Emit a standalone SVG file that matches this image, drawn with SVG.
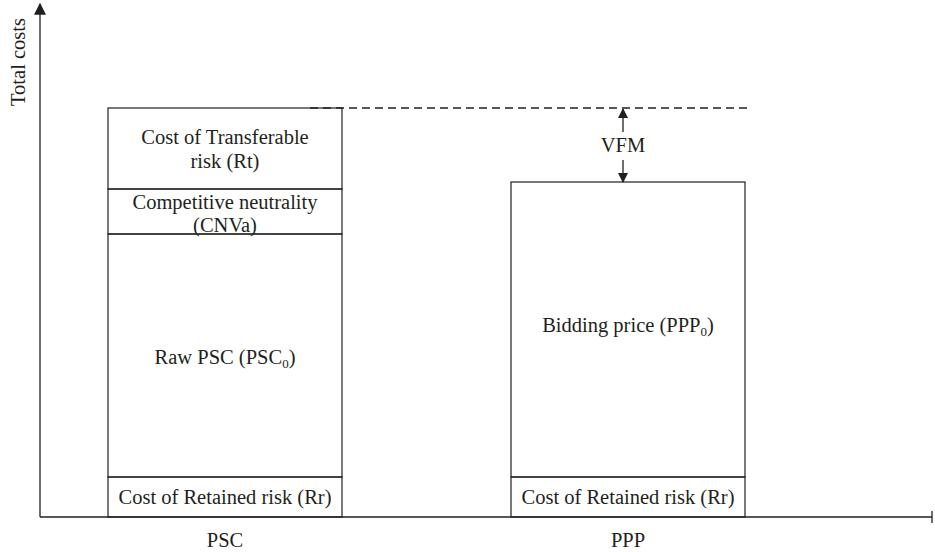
<svg xmlns="http://www.w3.org/2000/svg" width="935" height="552" viewBox="0 0 935 552">
<defs>
<style>
text{font-family:"Liberation Serif","Times New Roman",serif;font-size:20.5px;fill:#231f20;text-anchor:middle}
.box{fill:none;stroke:#231f20;stroke-width:1.2}
.ln{stroke:#231f20;stroke-width:1.3;fill:none}
</style>
<marker id="ah" viewBox="0 0 10 10" refX="9" refY="5" markerWidth="10" markerHeight="10" markerUnits="userSpaceOnUse" orient="auto"><path d="M0,0 L10,5 L0,10 z" fill="#231f20"/></marker>
<marker id="ay" viewBox="0 0 10 10" refX="9" refY="5" markerWidth="14" markerHeight="12" markerUnits="userSpaceOnUse" orient="auto"><path d="M0,0 L10,5 L0,10 z" fill="#231f20"/></marker>
</defs>
<g id="axes">
<line class="ln" x1="40" y1="517" x2="40" y2="4" marker-end="url(#ay)"/>
<line class="ln" x1="40" y1="517" x2="932" y2="517"/>
<line class="ln" x1="932" y1="511" x2="932" y2="523"/>
<text transform="translate(25,62) rotate(-90)">Total costs</text>
<text x="225" y="547">PSC</text>
<text x="628" y="547">PPP</text>
</g>
<g id="psc-rt">
<rect class="box" x="108" y="108" width="234" height="81"/>
<text x="225" y="144">Cost of Transferable</text>
<text x="225" y="168">risk (Rt)</text>
</g>
<g id="psc-cnva">
<rect class="box" x="108" y="189" width="234" height="45"/>
<text x="225" y="209">Competitive neutrality</text>
<text x="225" y="232">(CNVa)</text>
</g>
<g id="psc-raw">
<rect class="box" x="108" y="234" width="234" height="243"/>
<text x="225" y="364">Raw PSC (PSC<tspan font-size="13" dy="4">0</tspan><tspan dy="-4">)</tspan></text>
</g>
<g id="psc-rr">
<rect class="box" x="108" y="477" width="234" height="40"/>
<text x="225" y="504">Cost of Retained risk (Rr)</text>
</g>
<g id="ppp-bid">
<rect class="box" x="511" y="182" width="234" height="295"/>
<text x="628" y="332">Bidding price (PPP<tspan font-size="13" dy="4">0</tspan><tspan dy="-4">)</tspan></text>
</g>
<g id="ppp-rr">
<rect class="box" x="511" y="477" width="234" height="40"/>
<text x="628" y="504">Cost of Retained risk (Rr)</text>
</g>
<g id="connectors">
<line class="ln" x1="310" y1="108" x2="752" y2="108" stroke-dasharray="8,5"/>
<line class="ln" x1="623" y1="132" x2="623" y2="109" marker-end="url(#ah)"/>
<line class="ln" x1="623" y1="160" x2="623" y2="182" marker-end="url(#ah)"/>
<text x="623" y="152">VFM</text>
</g>
</svg>
